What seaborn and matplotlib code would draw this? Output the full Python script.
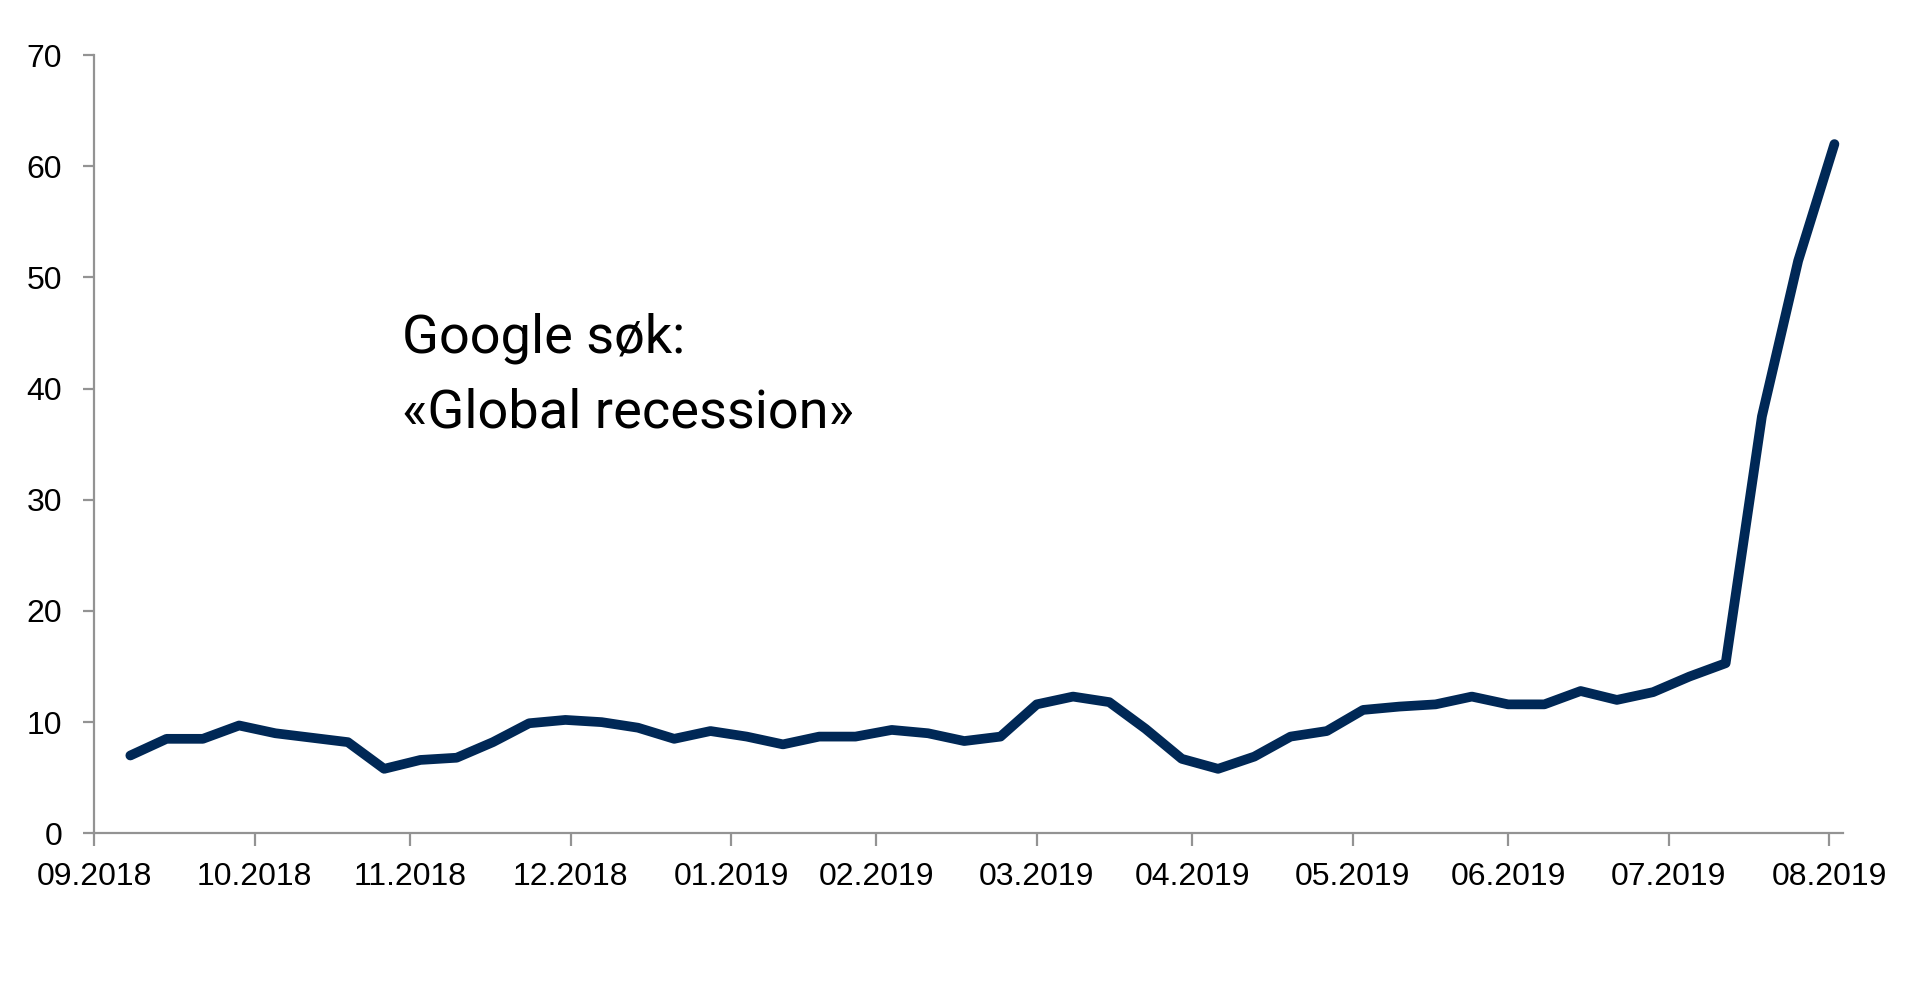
import numpy as np
import pandas as pd
import seaborn as sns
import matplotlib.pyplot as plt

# weekly google trends, "global recession"
first_week = "2018-10-07"
search_index = [7.0, 8.5, 8.5, 9.7, 9.0, 8.6, 8.2, 5.8, 6.6, 6.8,
                8.2, 9.9, 10.2, 10.0, 9.5, 8.5, 9.2, 8.7, 8.0, 8.7,
                8.7, 9.3, 9.0, 8.3, 8.7, 11.6, 12.3, 11.8, 9.4, 6.7,
                5.8, 6.9, 8.7, 9.2, 11.1, 11.4, 11.6, 12.3, 11.6, 11.6,
                12.8, 12.0, 12.7, 14.1, 15.3, 37.5, 51.5, 62.0]
month_labels = ["09.2018", "10.2018", "11.2018", "12.2018", "01.2019", "02.2019",
                "03.2019", "04.2019", "05.2019", "06.2019", "07.2019", "08.2019"]
y_ticks = [0, 10, 20, 30, 40, 50, 60, 70]
note_lines = ["Google søk:", "«Global recession»"]

navy = '#002856'
grey = '#939393'

sns.set_style("white")
plt.rcParams['font.family'] = ['Liberation Sans', 'DejaVu Sans']

df = pd.DataFrame({
    'week': pd.date_range(first_week, periods=len(search_index), freq='7D'),
    'index': search_index,
})
tick_pos = pd.to_datetime(month_labels, format="%m.%Y") + pd.offsets.MonthEnd(0)

fig = plt.figure(figsize=(19.2, 9.85), dpi=100)
ax = fig.add_axes([0.049, 0.154, 0.9107, 0.790])

sns.lineplot(data=df, x='week', y='index', color=navy, linewidth=7, ax=ax,
             solid_capstyle='round', solid_joinstyle='round')

ax.set_xlim(tick_pos[0], df['week'].iloc[-1] + pd.Timedelta(hours=38))
ax.set_ylim(0, 70)
ax.set_yticks(y_ticks)
ax.set_xticks(tick_pos)
ax.set_xticklabels(month_labels)
ax.set_xlabel('')
ax.set_ylabel('')

for side in ['top', 'right']:
    ax.spines[side].set_visible(False)
for side in ['left', 'bottom']:
    ax.spines[side].set_color(grey)
    ax.spines[side].set_linewidth(1.6)

ax.tick_params(axis='y', direction='out', length=8, width=1.6, color=grey,
               pad=15, labelsize=23, labelcolor='black', left=True)
ax.tick_params(axis='x', direction='out', length=9, width=1.6, color=grey,
               pad=12, labelsize=23, labelcolor='black', bottom=True)

fig.text(402 / 1920, 1 - 352 / 985, note_lines[0], fontsize=39, color='black',
         family=['Roboto', 'DejaVu Sans'], va='baseline', ha='left')
fig.text(402 / 1920, 1 - 427 / 985, note_lines[1], fontsize=39, color='black',
         family=['Roboto', 'DejaVu Sans'], va='baseline', ha='left')

fig.savefig('out.png', dpi=100, facecolor='white')
